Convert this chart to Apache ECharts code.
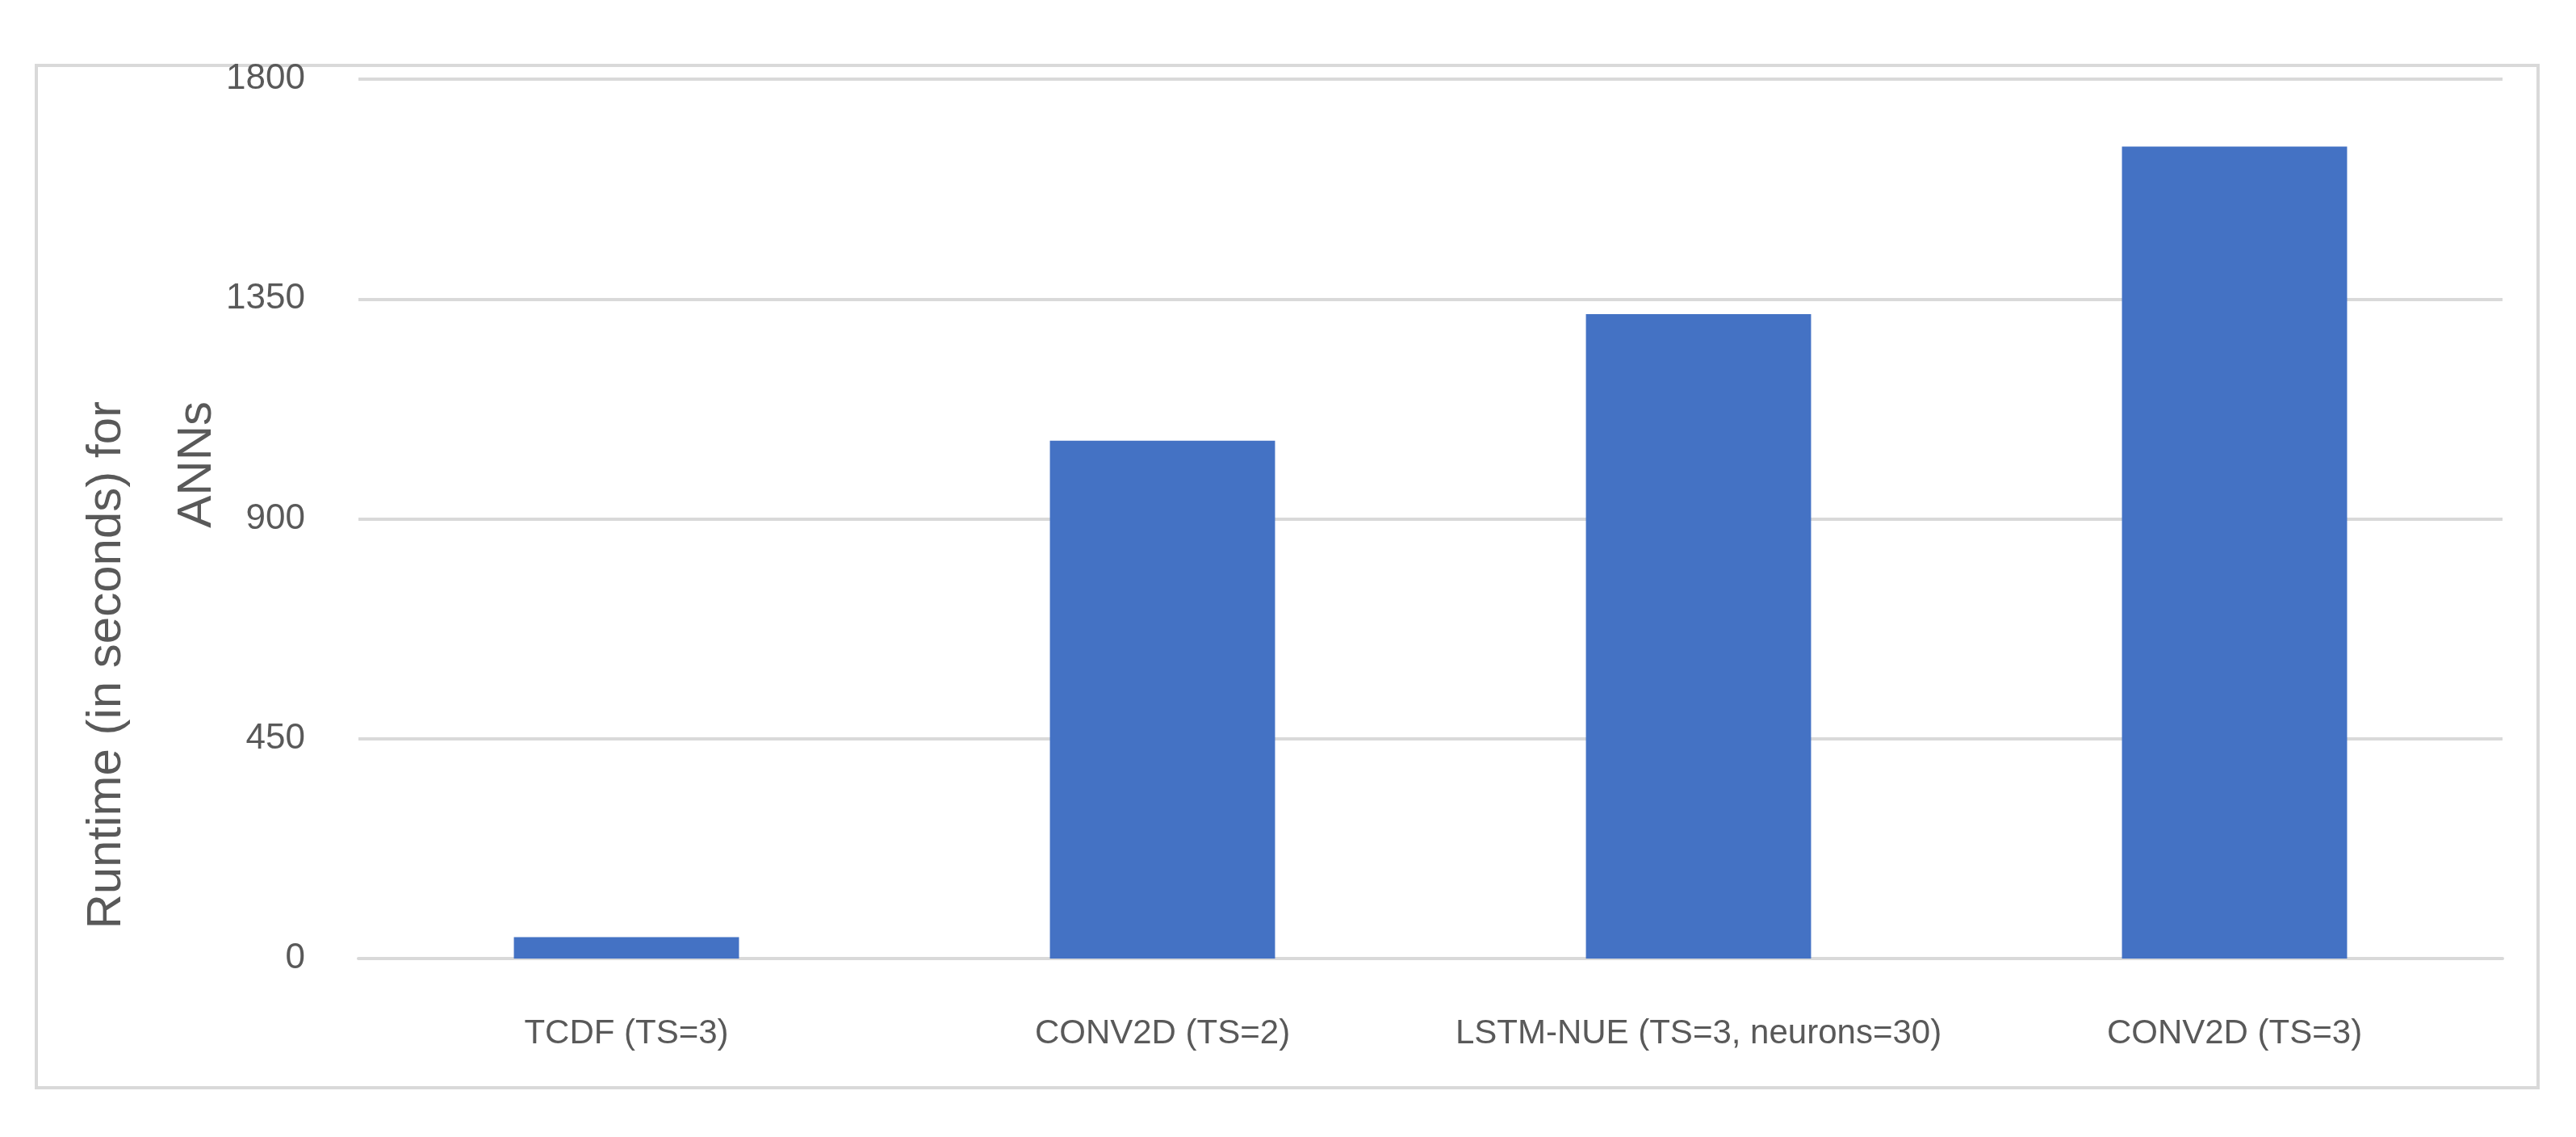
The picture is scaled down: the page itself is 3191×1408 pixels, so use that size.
<!DOCTYPE html>
<html><head><meta charset="utf-8">
<script src="https://cdn.jsdelivr.net/npm/echarts@6/dist/echarts.min.js"></script>
<style>html,body{margin:0;padding:0;background:#fff}#c{width:3191px;height:1408px}</style>
</head><body><div id="c"></div>
<script>
const categories = ['TCDF (TS=3)', 'CONV2D (TS=2)', 'LSTM-NUE (TS=3, neurons=30)', 'CONV2D (TS=3)'];
const runtimes = [44, 1060, 1319, 1662];
const yTicks = [0, 450, 900, 1350, 1800];
const chart = echarts.init(document.getElementById('c'));
const font = 'Liberation Sans, Arial, sans-serif';
chart.setOption({
  animation: false,
  backgroundColor: '#fff',
  grid: { left: 444, right: 91, top: 98, bottom: 221 },
  xAxis: {
    type: 'category', data: categories,
    axisLine: { show: true, lineStyle: { color: '#d9d9d9', width: 4 } },
    axisTick: { show: false },
    axisLabel: { color: '#595959', fontSize: 42, fontFamily: font, margin: 72, interval: 0 }
  },
  yAxis: {
    type: 'value', min: yTicks[0], max: yTicks[yTicks.length - 1], interval: 450,
    axisLine: { show: false }, axisTick: { show: false },
    splitLine: { lineStyle: { color: '#d9d9d9', width: 4 } },
    axisLabel: { color: '#595959', fontSize: 44, fontFamily: font, margin: 66, formatter: v => String(v) }
  },
  series: [{
    type: 'bar', data: runtimes, barWidth: '42%',
    itemStyle: { color: '#4472c4' }
  }],
  graphic: [
    { type: 'rect', shape: { x: 45, y: 81, width: 3099, height: 1266 }, style: { fill: null, stroke: '#d9d9d9', lineWidth: 4 } },
    { type: 'text', x: 188, y: 497, rotation: Math.PI / 2,
      style: { text: 'Runtime (in seconds) for\nANNs', fontSize: 60, fontFamily: font, fill: '#595959',
        align: 'right', verticalAlign: 'middle', lineHeight: 112 } }
  ]
});
</script></body></html>
